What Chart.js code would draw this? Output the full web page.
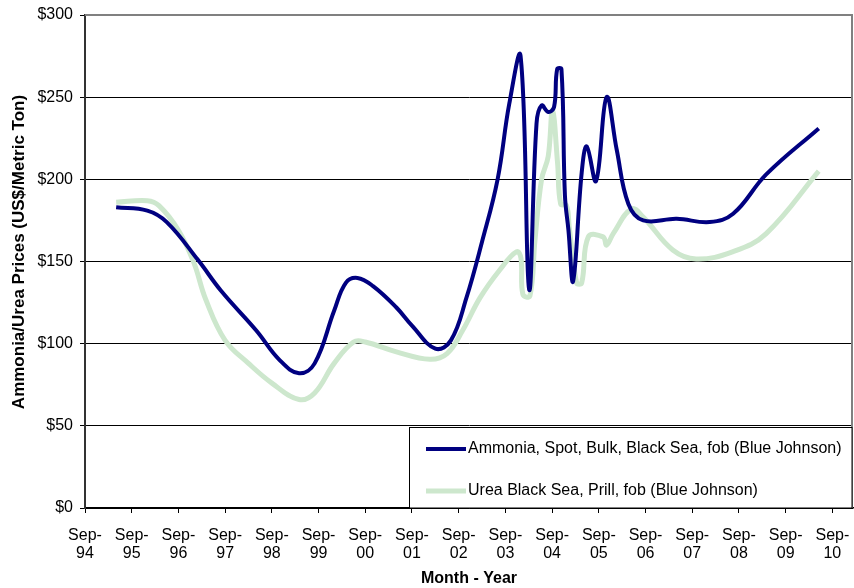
<!DOCTYPE html>
<html>
<head>
<meta charset="utf-8">
<script src="https://cdn.jsdelivr.net/npm/chart.js@4.4.1/dist/chart.umd.min.js"></script>
<style>
  html, body { margin: 0; padding: 0; background: #ffffff; }
  #wrap { width: 854px; height: 588px; }
</style>
</head>
<body>
<div id="wrap"><canvas id="chart" width="854" height="588"></canvas></div>
<script>
// Year tick labels, one per September (months counted from Sep-94)
const yearLabels = ['Sep-94', 'Sep-95', 'Sep-96', 'Sep-97', 'Sep-98', 'Sep-99', 'Sep-00', 'Sep-01',
  'Sep-02', 'Sep-03', 'Sep-04', 'Sep-05', 'Sep-06', 'Sep-07', 'Sep-08', 'Sep-09', 'Sep-10'];

// Price axis ticks (US$/metric ton)
const priceTicks = [0, 50, 100, 150, 200, 250, 300];

// Ammonia, spot, bulk, Black Sea, fob — months since Sep-94 and price
const ammoniaMonths = [8, 16, 21, 29, 35, 44, 50, 55, 59, 64, 67, 70, 74, 80, 84, 90, 94, 98, 102,
  106, 109, 111.9, 114.1, 116, 117.3, 119, 120.5, 121.3, 122.4, 123.3, 124.2, 125.4, 127.6, 128.9,
  131.3, 134, 136.6, 139.6, 143.4, 152, 160.5, 166.5, 175, 188.5];
const ammoniaPrices = [183, 181, 174, 151, 132, 108, 90, 82, 88, 120, 137, 140, 135, 122, 111, 97, 102, 128, 162,
  200, 246, 275, 133, 234, 245, 241, 244, 267, 267, 190, 169, 138, 204, 220,
  199, 250, 218, 185, 175, 176, 174, 179, 203, 231];

// Urea, Black Sea, prill, fob — months since Sep-94 and price
const ureaMonths = [8, 16, 19, 24, 28, 31, 36, 42, 48, 55, 59, 64, 69, 72, 80, 88.6, 93, 97, 101.5,
  106.6, 110.9, 112, 112.5, 114.3, 115.6, 117.3, 119, 120.1, 121.4, 122.2, 123.7, 124.4, 126.3, 127.6,
  129.3, 133.1, 134, 135.7, 140.4, 143.4, 151, 157, 166.5, 175, 188.5];
const ureaPrices = [186, 187, 184, 169, 149, 127, 102, 88, 76, 66, 70, 88, 101, 101, 95, 90.5, 94, 108, 128,
  145, 156, 152, 130, 129, 163, 200, 214, 242, 210, 185, 184, 171, 137, 137,
  165, 165, 160, 167, 182, 177, 157, 151.5, 156, 167, 205];

const FONT = "'Liberation Sans', Arial, Helvetica, sans-serif";
const AMMONIA_COLOR = '#000080';
const UREA_COLOR = '#cde7cd';

function toPoints(xs, ys) {
  return xs.map((x, i) => ({ x: x, y: ys[i] }));
}

// Frame, axis titles and the boxed legend drawn over the plot
const decorations = {
  id: 'decorations',
  afterDraw(chart) {
    const ctx = chart.ctx;
    const a = chart.chartArea;
    ctx.save();

    // grey frame on top and right of the plot area
    ctx.strokeStyle = '#808080';
    ctx.lineWidth = 2;
    ctx.beginPath();
    ctx.moveTo(a.left, a.top);
    ctx.lineTo(a.right - 1, a.top);
    ctx.lineTo(a.right - 1, a.bottom);
    ctx.stroke();

    // axis titles
    ctx.fillStyle = '#000';
    ctx.textAlign = 'center';
    ctx.textBaseline = 'middle';
    ctx.font = 'bold 16px ' + FONT;
    ctx.fillText('Month - Year', (a.left + a.right) / 2, 579);
    ctx.save();
    ctx.translate(19, 252);
    ctx.rotate(-Math.PI / 2);
    ctx.font = 'bold 17px ' + FONT;
    ctx.fillText('Ammonia/Urea Prices (US$/Metric Ton)', 0, 0);
    ctx.restore();

    // legend box
    const bx = 409.5, by = 427.5, bw = a.right - 1 - bx, bh = a.bottom - by;
    ctx.fillStyle = '#fff';
    ctx.fillRect(bx, by, bw, bh);
    ctx.strokeStyle = '#000';
    ctx.lineWidth = 1;
    ctx.strokeRect(bx, by, bw, bh);

    const rows = [449, 491];
    chart.data.datasets.forEach((ds, i) => {
      const y = rows[i];
      ctx.strokeStyle = ds.borderColor;
      ctx.lineWidth = ds.borderWidth;
      ctx.lineCap = 'butt';
      ctx.beginPath();
      ctx.moveTo(426, y);
      ctx.lineTo(466, y);
      ctx.stroke();
      ctx.fillStyle = '#000';
      ctx.font = '16px ' + FONT;
      ctx.textAlign = 'left';
      ctx.textBaseline = 'middle';
      ctx.fillText(ds.label, 468, y);
    });
    ctx.restore();
  }
};

new Chart(document.getElementById('chart'), {
  type: 'line',
  data: {
    datasets: [
      {
        label: 'Ammonia, Spot, Bulk, Black Sea, fob (Blue Johnson)',
        data: toPoints(ammoniaMonths, ammoniaPrices),
        borderColor: AMMONIA_COLOR,
        borderWidth: 4,
        tension: 0.4,
        pointRadius: 0,
        fill: false,
        order: 1
      },
      {
        label: 'Urea Black Sea, Prill, fob (Blue Johnson)',
        data: toPoints(ureaMonths, ureaPrices),
        borderColor: UREA_COLOR,
        borderWidth: 5,
        tension: 0.4,
        pointRadius: 0,
        fill: false,
        order: 2
      }
    ]
  },
  options: {
    responsive: false,
    animation: false,
    devicePixelRatio: 1,
    layout: { padding: { top: 15, right: 1, left: 0, bottom: 0 } },
    plugins: {
      legend: { display: false },
      tooltip: { enabled: false }
    },
    scales: {
      x: {
        type: 'linear',
        min: 0,
        max: 197.3,
        afterFit(scale) {
          scale.height = 80;
          scale.paddingLeft = 0;
          scale.paddingRight = 0;
        },
        afterBuildTicks(scale) {
          scale.ticks = yearLabels.map((_, i) => ({ value: i * 12 }));
        },
        ticks: {
          color: '#000',
          font: { family: FONT, size: 16, lineHeight: 1.12 },
          padding: 14,
          maxRotation: 0,
          autoSkip: false,
          callback(value) {
            const lbl = yearLabels[Math.round(value / 12)];
            return [lbl.slice(0, 4), lbl.slice(4)];
          }
        },
        grid: {
          drawOnChartArea: false,
          drawTicks: true,
          tickLength: 5,
          color: '#000'
        },
        border: { color: '#000', width: 1.5 }
      },
      y: {
        min: 0,
        max: 300,
        afterFit(scale) {
          scale.width = 85;
          scale.paddingTop = 0;
          scale.paddingBottom = 0;
        },
        afterBuildTicks(scale) {
          scale.ticks = priceTicks.map(v => ({ value: v }));
        },
        ticks: {
          color: '#000',
          font: { family: FONT, size: 16 },
          padding: 7,
          callback(value) { return '$' + value; }
        },
        grid: {
          color: ctx => (ctx.tick && ctx.tick.value === 300) ? 'rgba(0,0,0,0)' : '#000',
          lineWidth: 1,
          tickLength: 5,
          tickColor: '#000'
        },
        border: { color: '#333', width: 2 }
      }
    }
  },
  plugins: [decorations]
});
</script>
</body>
</html>
